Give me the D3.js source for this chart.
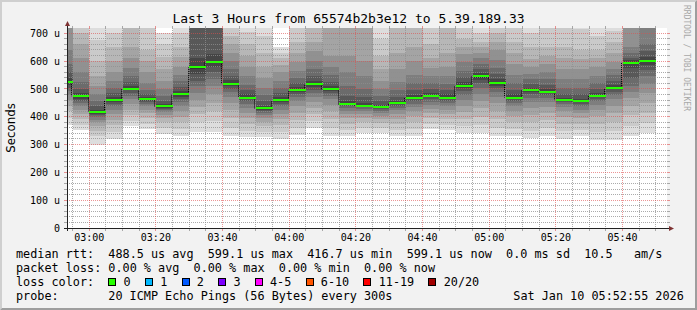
<!DOCTYPE html>
<html>
<head>
<meta charset="utf-8">
<script src="https://cdn.jsdelivr.net/npm/d3@7"></script>
<style>
body { margin: 0; background: #f2f2f2; }
text { font-family: "DejaVu Sans Mono", monospace; white-space: pre; }
</style>
</head>
<body>
<div id="chart"></div>
<script>
// values (microseconds)
var title= "Last 3 Hours from 65574b2b3e12 to 5.39.189.33";
var day= "2026-01-10";
var rangeStart= "02:53:20", rangeEnd= "05:53:20";
var yMax= 719;

var stepEnds= ["02:55","03:00","03:05","03:10","03:15","03:20","03:25","03:30","03:35","03:40",
	"03:45","03:50","03:55","04:00","04:05","04:10","04:15","04:20","04:25","04:30",
	"04:35","04:40","04:45","04:50","04:55","05:00","05:05","05:10","05:15","05:20",
	"05:25","05:30","05:35","05:40","05:45","05:50"];

var medians= [524,473,417,459,501,462,437,481,577,596,
	519,469,430,459,495,517,498,444,440,434,
	449,467,476,469,512,545,521,469,495,488,
	459,456,474,503,594,599];

// 20 sorted pings per step
var pings= [
	[370,395,420,440,460,478,492,505,515,521,527,540,560,590,640,725,750,770,790,810],
	[353,372,392,410,425,437,448,457,465,470,476,485,500,525,560,610,660,700,730,760],
	[300,330,350,368,380,390,398,405,411,415,419,426,440,458,480,510,545,600,676,740],
	[320,345,370,390,410,425,437,446,453,457,461,470,485,505,530,560,600,650,700,745],
	[366,385,405,425,445,462,476,487,495,499,503,512,525,545,575,610,650,725,750,775],
	[356,375,395,412,426,437,446,453,458,460,464,470,480,495,520,560,600,640,725,750],
	[338,360,380,396,408,417,424,429,433,435,439,446,458,475,500,530,570,615,660,702],
	[332,355,380,400,420,438,452,463,472,478,484,493,508,528,550,580,615,650,700,745],
	[346,380,410,435,460,485,510,530,555,570,584,610,730,760,780,800,820,840,860,880],
	[346,385,420,450,480,510,535,560,580,592,600,625,725,750,775,800,820,840,860,880],
	[330,360,395,425,450,472,488,500,510,516,522,532,548,570,600,630,660,690,730,760],
	[326,350,375,395,415,432,446,456,463,467,471,480,495,515,545,580,620,660,705,740],
	[326,345,365,382,396,407,415,421,426,429,432,440,455,478,505,540,580,630,690,735],
	[320,345,370,392,410,425,437,447,454,457,461,470,485,505,530,560,585,610,630,650],
	[333,360,390,415,437,455,470,481,489,493,497,506,520,540,565,595,630,670,725,750],
	[360,385,410,432,452,470,485,497,507,514,520,530,547,570,600,635,670,725,750,770],
	[330,360,392,420,443,462,476,486,493,496,500,510,525,550,580,620,725,745,765,790],
	[330,352,375,395,410,422,431,437,441,443,445,455,475,510,560,620,725,750,770,790],
	[340,360,380,397,410,420,428,434,438,439,441,450,470,500,545,600,722,745,765,785],
	[340,358,376,392,404,414,421,427,431,433,435,442,455,475,500,530,570,620,680,730],
	[330,352,374,393,410,423,433,440,445,448,450,458,472,495,525,570,630,725,745,765],
	[330,355,380,402,420,435,447,456,462,465,469,478,495,520,550,600,650,725,745,765],
	[356,375,395,413,428,442,453,463,470,474,478,486,500,520,545,575,610,660,725,750],
	[352,372,392,410,425,438,448,457,463,467,471,480,495,518,545,580,630,725,745,765],
	[340,365,392,418,440,460,477,491,502,509,515,525,542,565,595,625,650,680,725,750],
	[340,370,400,430,458,482,503,520,533,541,549,558,572,590,612,630,650,670,700,740],
	[330,360,392,422,448,470,488,502,512,518,524,535,552,575,605,640,670,700,730,760],
	[330,355,380,402,421,437,449,458,464,467,471,480,496,520,550,590,630,670,725,745],
	[322,350,380,408,432,452,468,480,488,493,497,505,518,535,555,580,608,650,700,740],
	[330,358,388,414,436,454,467,477,484,486,490,500,515,535,560,590,620,650,725,745],
	[320,348,375,400,420,435,446,453,457,458,460,468,482,505,535,570,610,650,725,745],
	[330,352,375,395,412,426,437,446,452,455,457,465,480,505,535,570,608,640,715,735],
	[316,345,375,402,425,442,455,464,470,473,475,485,500,520,548,580,610,640,690,735],
	[316,348,382,412,440,462,478,490,498,501,505,515,530,550,570,595,630,670,710,750],
	[330,368,405,440,468,490,510,540,575,590,598,605,612,628,650,730,760,790,810,830],
	[340,378,415,450,485,518,545,568,586,596,602,615,635,660,725,750,775,800,820,840]
];

var yTicks= [0,100,200,300,400,500,600,700];
var xTickLabels= ["03:00","03:20","03:40","04:00","04:20","04:40","05:00","05:20","05:40"];

var legendRtt= "median rtt:  488.5 us avg  599.1 us max  416.7 us min  599.1 us now  0.0 ms sd  10.5   am/s";
var legendLoss= "packet loss: 0.00 % avg  0.00 % max  0.00 % min  0.00 % now";
var lossLabels= ["0","1","2","3","4-5","6-10","11-19","20/20"];
var lossColors= ["#26ff00","#00b8ff","#0059ff","#7e00ff","#ff00ff","#ff5500","#ff0000","#a10000"];
var probeText= "20 ICMP Echo Pings (56 Bytes) every 300s";
var stamp= "Sat Jan 10 05:52:55 2026";

var width= 697, height= 310;
var pLeft= 67, pRight= 667, pBottom= 228, pTop= 28;
var adv= 7.1;   // legend char width

var parseS= d3.timeParse("%Y-%m-%d %H:%M:%S");
var parseM= d3.timeParse("%Y-%m-%d %H:%M");
var t0= parseS(day + " " + rangeStart), t1= parseS(day + " " + rangeEnd);

var x= d3.scaleTime().domain([t0, t1]).range([pLeft, pRight]);
var y= d3.scaleLinear().domain([0, yMax]).range([pBottom, pTop]);

var svg= d3.select("#chart").append("svg")
	.attr("width", width)
	.attr("height", height);

// background and 3d border
svg.append("rect").attr("width", width).attr("height", height).attr("fill", "#f2f2f2");
svg.append("path").attr("d", "M0,0H697L695,2H2V308L0,310Z").attr("fill", "#cfcfcf");
svg.append("path").attr("d", "M697,0V310H0L2,308H695V2Z").attr("fill", "#9e9e9e");

svg.append("rect")
	.attr("x", pLeft).attr("y", pTop)
	.attr("width", pRight- pLeft).attr("height", pBottom- pTop)
	.attr("fill", "#ffffff");

svg.append("clipPath").attr("id", "plotclip")
	.append("rect")
	.attr("x", pLeft).attr("y", pTop)
	.attr("width", pRight- pLeft).attr("height", pBottom- pTop);

var steps= stepEnds.map(function(s, i) {
	var end= parseM(day + " " + s);
	var start= new Date(end.getTime()- 5* 60000);
	if (start< t0) start= t0;
	return {start: start, end: end, p: pings[i], med: medians[i]};
});

// smoke: band k goes from ping k to ping 19-k, darker towards the middle
var plot= svg.append("g").attr("clip-path", "url(#plotclip)");
for (var k= 0; k< 10; k++) {
	var g= Math.floor(190/ 10* (10- (k+ 1)))+ 50;
	plot.append("g")
		.attr("fill", d3.rgb(g, g, g))
		.attr("shape-rendering", "crispEdges")
		.selectAll("rect")
		.data(steps)
		.join("rect")
			.attr("x", function(d) { return Math.round(x(d.start)); })
			.attr("width", function(d) { return Math.round(x(d.end))- Math.round(x(d.start)); })
			.attr("y", function(d) { return y(Math.min(d.p[19- k], yMax+ 5)); })
			.attr("height", function(d) { return y(d.p[k])- y(Math.min(d.p[19- k], yMax+ 5)); });
}

// grid
var grid= svg.append("g").attr("stroke-width", 1).attr("fill", "none").attr("shape-rendering", "crispEdges");
var px= function(v) { return Math.floor(v)+ 0.5; };

var majorX= xTickLabels.map(function(s) { return parseM(day + " " + s); });
var minorX= steps.map(function(d) { return d.end; })
	.filter(function(t) { return xTickLabels.indexOf(d3.timeFormat("%H:%M")(t))< 0 && t< t1; });
var minorY= d3.range(20, yMax, 20).filter(function(v) { return v% 100!== 0; });

var minorCol= "rgba(143,143,143,0.75)", majorCol= "rgba(222,79,79,0.6)";

function hline(v, col) {
	var yy= px(y(v));
	grid.append("line").attr("x1", pLeft).attr("x2", pRight+ 1).attr("y1", yy).attr("y2", yy)
		.attr("stroke", col).attr("stroke-dasharray", "1,1");
	grid.append("line").attr("x1", pLeft- 3).attr("x2", pLeft).attr("y1", yy).attr("y2", yy).attr("stroke", col);
	grid.append("line").attr("x1", pRight+ 1).attr("x2", pRight+ 3).attr("y1", yy).attr("y2", yy).attr("stroke", col);
}
function vline(t, col) {
	var xx= px(x(t));
	grid.append("line").attr("x1", xx).attr("x2", xx).attr("y1", pTop).attr("y2", pBottom)
		.attr("stroke", col).attr("stroke-dasharray", "1,1");
	grid.append("line").attr("x1", xx).attr("x2", xx).attr("y1", pBottom).attr("y2", pBottom+ 3).attr("stroke", col);
	grid.append("line").attr("x1", xx).attr("x2", xx).attr("y1", pTop- 2).attr("y2", pTop).attr("stroke", col);
}
minorY.forEach(function(v) { hline(v, minorCol); });
minorX.forEach(function(t) { vline(t, minorCol); });
yTicks.filter(function(v) { return v> 0; }).forEach(function(v) { hline(v, majorCol); });
majorX.forEach(function(t) { vline(t, majorCol); });

// median: dotted connectors and green steps
var med= svg.append("g");
steps.forEach(function(d, i) {
	if (i> 0) {
		med.append("line")
			.attr("x1", px(x(d.start))- 1).attr("x2", px(x(d.start))- 1)
			.attr("y1", y(steps[i- 1].med)).attr("y2", y(d.med))
			.attr("stroke", "#000").attr("stroke-dasharray", "1,1");
	}
});
med.selectAll("rect")
	.data(steps)
	.join("rect")
		.attr("x", function(d) { return Math.round(x(d.start)); })
		.attr("width", function(d) { return Math.round(x(d.end))- Math.round(x(d.start)); })
		.attr("y", function(d) { return Math.round(y(d.med))- 1; })
		.attr("height", 2)
		.attr("fill", lossColors[0]);

// axes
var axisCol= "#212121", arrowCol= "#7f3333";
svg.append("line").attr("x1", pLeft- 3).attr("x2", pRight+ 3).attr("y1", pBottom+ 0.5).attr("y2", pBottom+ 0.5)
	.attr("stroke", axisCol);
svg.append("line").attr("x1", pLeft+ 0.5).attr("x2", pLeft+ 0.5).attr("y1", pBottom+ 3).attr("y2", pTop- 3)
	.attr("stroke", axisCol);
svg.append("path").attr("d", "M" + (pRight+ 2) + "," + (pBottom- 2) + "L" + (pRight+ 7) + "," + (pBottom+ 0.5) + "L" + (pRight+ 2) + "," + (pBottom+ 3) + "Z")
	.attr("fill", arrowCol);
svg.append("path").attr("d", "M" + (pLeft- 2) + "," + (pTop- 2) + "L" + (pLeft+ 0.5) + "," + (pTop- 7) + "L" + (pLeft+ 3) + "," + (pTop- 2) + "Z")
	.attr("fill", arrowCol);

svg.append("g").selectAll("text")
	.data(yTicks)
	.join("text")
		.attr("x", 60)
		.attr("y", function(d) { return y(d)+ 3.6; })
		.attr("text-anchor", "end")
		.attr("font-size", 10)
		.text(function(d) { return d=== 0 ? "0" : d + " u"; });

svg.append("g").selectAll("text")
	.data(xTickLabels)
	.join("text")
		.attr("x", function(d) { return x(parseM(day + " " + d)); })
		.attr("y", 241)
		.attr("text-anchor", "middle")
		.attr("font-size", 10)
		.text(function(d) { return d; });

// titles
svg.append("text")
	.attr("x", 348.5).attr("y", 23)
	.attr("text-anchor", "middle")
	.attr("font-size", 13)
	.text(title);

svg.append("text")
	.attr("transform", "translate(15,128) rotate(-90)")
	.attr("text-anchor", "middle")
	.attr("font-size", 11.8)
	.style("font-family", "'DejaVu Sans', sans-serif")
	.text("Seconds");

svg.append("text")
	.attr("transform", "translate(684,5) rotate(90)")
	.attr("font-size", 8)
	.attr("fill", "#a8a8a8")
	.text("RRDTOOL / TOBI OETIKER");

// legend
var leg= svg.append("g").attr("font-size", 11.8);
leg.append("text").attr("x", 16).attr("y", 258).text(legendRtt);
leg.append("text").attr("x", 16).attr("y", 272).text(legendLoss);
leg.append("text").attr("x", 16).attr("y", 286).text("loss color:");

var bx= 16+ 13* adv;
lossLabels.forEach(function(lab, i) {
	leg.append("rect")
		.attr("x", Math.round(bx)+ 0.5).attr("y", 278.5)
		.attr("width", 7).attr("height", 7)
		.attr("fill", lossColors[i])
		.attr("stroke", "#000");
	leg.append("text").attr("x", bx+ 15.3).attr("y", 286).text(lab);
	bx= bx+ 15.3+ (lab.length+ 2)* adv;
});

leg.append("text").attr("x", 16).attr("y", 300).text("probe:");
leg.append("text").attr("x", 16+ 13* adv).attr("y", 300).text(probeText);
leg.append("text").attr("x", 513.3).attr("y", 300).text(stamp);
</script>
</body>
</html>
